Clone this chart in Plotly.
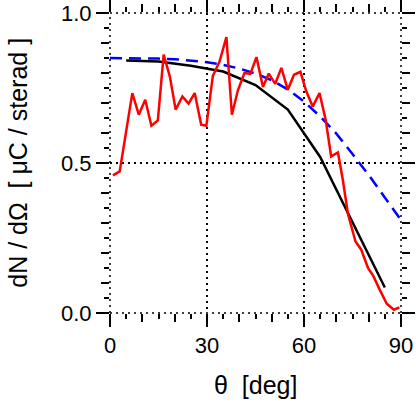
import plotly.graph_objects as go

# black curve (binned)
theta_black = [5, 15, 25, 35, 45, 55, 65, 75, 85]
dn_black = [0.842, 0.838, 0.824, 0.805, 0.760, 0.678, 0.520, 0.305, 0.085]

# blue dashed model curve
theta_blue = [0, 5, 10, 15, 20, 25, 30, 35, 40, 45, 50, 55, 60, 65, 70, 75, 80, 85, 90]
dn_blue = [0.850, 0.850, 0.849, 0.848, 0.846, 0.842, 0.836, 0.827, 0.815, 0.798,
           0.776, 0.745, 0.705, 0.655, 0.598, 0.530, 0.460, 0.385, 0.310]

# red measured curve
theta_red = [0.9, 3.0, 6.9, 8.9, 10.9, 12.8, 14.8, 16.6, 18.5, 20.3, 22.4, 24.3,
             26.2, 28.2, 29.8, 31.8, 33.9, 36.0, 37.7, 39.6, 41.6, 43.4, 45.3, 47.3,
             49.1, 51.1, 53.0, 55.0, 56.9, 58.9, 60.7, 62.7, 64.8, 66.7, 68.4, 70.5,
             72.0, 73.6, 75.9, 77.7, 79.8, 81.5, 83.4, 85.6, 87.8, 89.5]
dn_red = [0.459, 0.472, 0.733, 0.661, 0.711, 0.624, 0.642, 0.861, 0.789, 0.678, 0.722, 0.698,
          0.733, 0.628, 0.624, 0.790, 0.839, 0.920, 0.661, 0.744, 0.800, 0.797, 0.853, 0.753,
          0.798, 0.764, 0.817, 0.744, 0.794, 0.804, 0.739, 0.688, 0.733, 0.644, 0.522, 0.535,
          0.444, 0.330, 0.239, 0.211, 0.150, 0.122, 0.078, 0.031, 0.011, 0.019]

x_major = [0, 30, 60, 90]
x_mid = [10, 20, 40, 50, 70, 80]
x_small = [5, 15, 25, 35, 45, 55, 65, 75, 85]
y_major = [0, 0.5, 1.0]
y_mid = [0.1, 0.2, 0.3, 0.4, 0.6, 0.7, 0.8, 0.9]
y_small = [0.05, 0.15, 0.25, 0.35, 0.45, 0.55, 0.65, 0.75, 0.85, 0.95]

FONT = "Liberation Sans, Arial, Helvetica, sans-serif"
DOTS = "2px,4px"

fig = go.Figure()

fig.add_trace(go.Scatter(x=theta_blue, y=dn_blue, mode="lines",
                         line=dict(color="#0000ff", width=2.5, dash="12px,7px")))
fig.add_trace(go.Scatter(x=theta_black, y=dn_black, mode="lines",
                         line=dict(color="black", width=2.5)))
fig.add_trace(go.Scatter(x=theta_red, y=dn_red, mode="lines",
                         line=dict(color="#ff0000", width=2.5)))
# invisible trace on the overlay axes so they get drawn
fig.add_trace(go.Scatter(x=[0], y=[0], xaxis="x2", yaxis="y2", mode="markers",
                         marker=dict(opacity=0), hoverinfo="skip"))

common = dict(ticks="outside", tickwidth=2, tickcolor="black", showline=False,
              zeroline=False, mirror="ticks", automargin=False)

fig.update_layout(
    width=416, height=404,
    margin=dict(l=110, r=15, t=13, b=91),
    paper_bgcolor="white", plot_bgcolor="white",
    showlegend=False,
    font=dict(family=FONT, size=22, color="black"),
    xaxis=dict(range=[0, 90], tickvals=x_major, ticklen=13, ticklabeloverflow="allow",
               showgrid=True, gridcolor="black", gridwidth=1.5, griddash=DOTS,
               minor=dict(tickvals=x_mid, ticks="outside", ticklen=8, tickwidth=2,
                          tickcolor="black", showgrid=False),
               **common),
    yaxis=dict(range=[0, 1], tickvals=y_major, ticktext=["0.0", "0.5", "1.0"], ticklen=13,
               ticklabeloverflow="allow",
               showgrid=True, gridcolor="black", gridwidth=1.5, griddash=DOTS,
               minor=dict(tickvals=y_mid, ticks="outside", ticklen=8, tickwidth=2,
                          tickcolor="black", showgrid=False),
               **common),
    xaxis2=dict(range=[0, 90], overlaying="x", tickvals=x_small, ticklen=5,
                showticklabels=False, showgrid=False, **common),
    yaxis2=dict(range=[0, 1], overlaying="y", tickvals=y_small, ticklen=5,
                showticklabels=False, showgrid=False, **common),
)

# dotted frame along the plot edges (plotly skips grid lines at the range ends)
edge = dict(color="black", width=1.5, dash=DOTS)
fig.add_shape(type="line", xref="paper", yref="paper", x0=0, x1=1, y0=0, y1=0, line=edge)
fig.add_shape(type="line", xref="paper", yref="paper", x0=0, x1=1, y0=1, y1=1, line=edge)
fig.add_shape(type="line", xref="paper", yref="paper", x0=0, x1=0, y0=0, y1=1, line=edge)
fig.add_shape(type="line", xref="paper", yref="paper", x0=1, x1=1, y0=0, y1=1, line=edge)

fig.add_annotation(text="θ\u00a0 [deg]", xref="paper", yref="paper", x=0.5, y=-0.24,
                   xanchor="center", yanchor="middle", showarrow=False,
                   font=dict(family=FONT, size=25))
fig.add_annotation(text="dN / dΩ\u00a0 [ μC / sterad ]", xref="paper", yref="paper",
                   x=-0.317, y=0.5, textangle=-90, xanchor="center", yanchor="middle",
                   showarrow=False, font=dict(family=FONT, size=25))

# drop the browser's default 8px body margin so the figure fills the window
fig.write_html("out.html", config={"displayModeBar": False},
               post_script="document.body.style.margin = '0';")
